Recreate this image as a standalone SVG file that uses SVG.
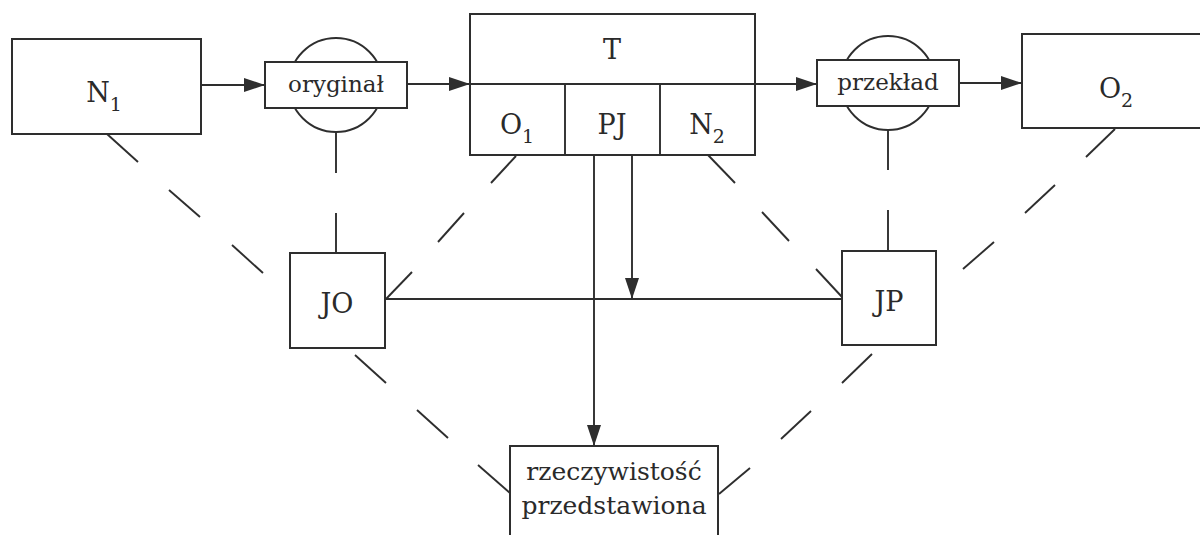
<svg xmlns="http://www.w3.org/2000/svg" width="1200" height="535" viewBox="0 0 1200 535">
<defs>
<marker id="ah" markerUnits="userSpaceOnUse" markerWidth="21" markerHeight="15" refX="21" refY="7" orient="auto">
<path d="M0,0 L21,7 L0,14 Z" fill="#2e2e2e"/>
</marker>
<style>
.box{fill:#fff;stroke:#2e2e2e;stroke-width:2}
.ln{fill:none;stroke:#2e2e2e;stroke-width:1.9}
.circ{fill:#fff;stroke:#2e2e2e;stroke-width:1.9}
.big{font-family:"DejaVu Serif","Liberation Serif",serif;font-size:27px;fill:#2a2a2a;text-anchor:middle}
.sm{font-family:"DejaVu Serif","Liberation Serif",serif;font-size:23px;fill:#2a2a2a;text-anchor:middle}
.md{font-family:"DejaVu Serif","Liberation Serif",serif;font-size:25px;fill:#2a2a2a;text-anchor:middle}
.sub{font-size:19px}
</style>
</defs>
<rect width="1200" height="535" fill="#fff"/>

<g id="connectors">
<line class="ln" x1="201" y1="85" x2="265" y2="85" marker-end="url(#ah)"/>
<line class="ln" x1="407" y1="84" x2="470" y2="84" marker-end="url(#ah)"/>
<line class="ln" x1="470" y1="84" x2="817" y2="84" marker-end="url(#ah)"/>
<line class="ln" x1="959" y1="83" x2="1022" y2="83" marker-end="url(#ah)"/>
<line class="ln" x1="632" y1="155" x2="632" y2="299" marker-end="url(#ah)"/>
<line class="ln" x1="594" y1="155" x2="594" y2="446" marker-end="url(#ah)"/>
<line class="ln" x1="385" y1="299" x2="842" y2="299"/>
<line class="ln" x1="336" y1="132" x2="336" y2="173"/>
<line class="ln" x1="336" y1="213" x2="336" y2="253"/>
<line class="ln" x1="888" y1="130" x2="888" y2="170"/>
<line class="ln" x1="888" y1="210" x2="888" y2="251"/>
<line class="ln" x1="107" y1="134" x2="138" y2="162"/>
<line class="ln" x1="169" y1="190" x2="200" y2="217"/>
<line class="ln" x1="232" y1="245" x2="263" y2="273"/>
<line class="ln" x1="516" y1="156" x2="491" y2="183"/>
<line class="ln" x1="464" y1="213" x2="438" y2="242"/>
<line class="ln" x1="412" y1="272" x2="386" y2="299"/>
<line class="ln" x1="708" y1="155" x2="735" y2="183"/>
<line class="ln" x1="762" y1="212" x2="789" y2="241"/>
<line class="ln" x1="816" y1="269" x2="842" y2="297"/>
<line class="ln" x1="1115" y1="129" x2="1086" y2="157"/>
<line class="ln" x1="1055" y1="185" x2="1025" y2="213"/>
<line class="ln" x1="994" y1="242" x2="963" y2="269"/>
<line class="ln" x1="355" y1="355" x2="386" y2="383"/>
<line class="ln" x1="417" y1="410" x2="448" y2="438"/>
<line class="ln" x1="478" y1="465" x2="510" y2="493"/>
<line class="ln" x1="872" y1="354" x2="842" y2="383"/>
<line class="ln" x1="811" y1="411" x2="781" y2="439"/>
<line class="ln" x1="750" y1="468" x2="719" y2="494"/>
</g>

<g id="N1">
<rect class="box" x="12" y="39" width="189" height="95"/>
<text class="big" x="104" y="102">N<tspan class="sub" dy="9">1</tspan></text>
</g>

<g id="oryginal">
<circle class="circ" cx="336" cy="85" r="47"/>
<rect class="box" x="265" y="62" width="142" height="46"/>
<text class="sm" x="336" y="92">oryginał</text>
</g>

<g id="T">
<rect x="470" y="14" width="285" height="141" fill="none" stroke="#2e2e2e" stroke-width="2"/>
<line class="ln" x1="755" y1="84" x2="817" y2="84"/>
<line class="ln" x1="565" y1="84" x2="565" y2="155"/>
<line class="ln" x1="660" y1="84" x2="660" y2="155"/>
<text class="big" x="612" y="59">T</text>
<text class="big" x="517" y="134">O<tspan class="sub" dy="9">1</tspan></text>
<text class="big" x="612" y="134">PJ</text>
<text class="big" x="707" y="134">N<tspan class="sub" dy="9">2</tspan></text>
</g>

<g id="przeklad">
<circle class="circ" cx="888" cy="83" r="47"/>
<rect class="box" x="817" y="60" width="142" height="46"/>
<text class="sm" x="888" y="90">przekład</text>
</g>

<g id="O2">
<rect class="box" x="1022" y="34" width="200" height="94"/>
<text class="big" x="1116" y="98">O<tspan class="sub" dy="9">2</tspan></text>
</g>

<g id="JO">
<rect class="box" x="290" y="253" width="95" height="95"/>
<text class="big" x="337" y="313">JO</text>
</g>

<g id="JP">
<rect class="box" x="842" y="251" width="94" height="94"/>
<text class="big" x="889" y="311">JP</text>
</g>

<g id="rzeczywistosc">
<rect class="box" x="510" y="446" width="208" height="100"/>
<text class="md" x="614" y="480">rzeczywistość</text>
<text class="md" x="614" y="514">przedstawiona</text>
</g>
</svg>
